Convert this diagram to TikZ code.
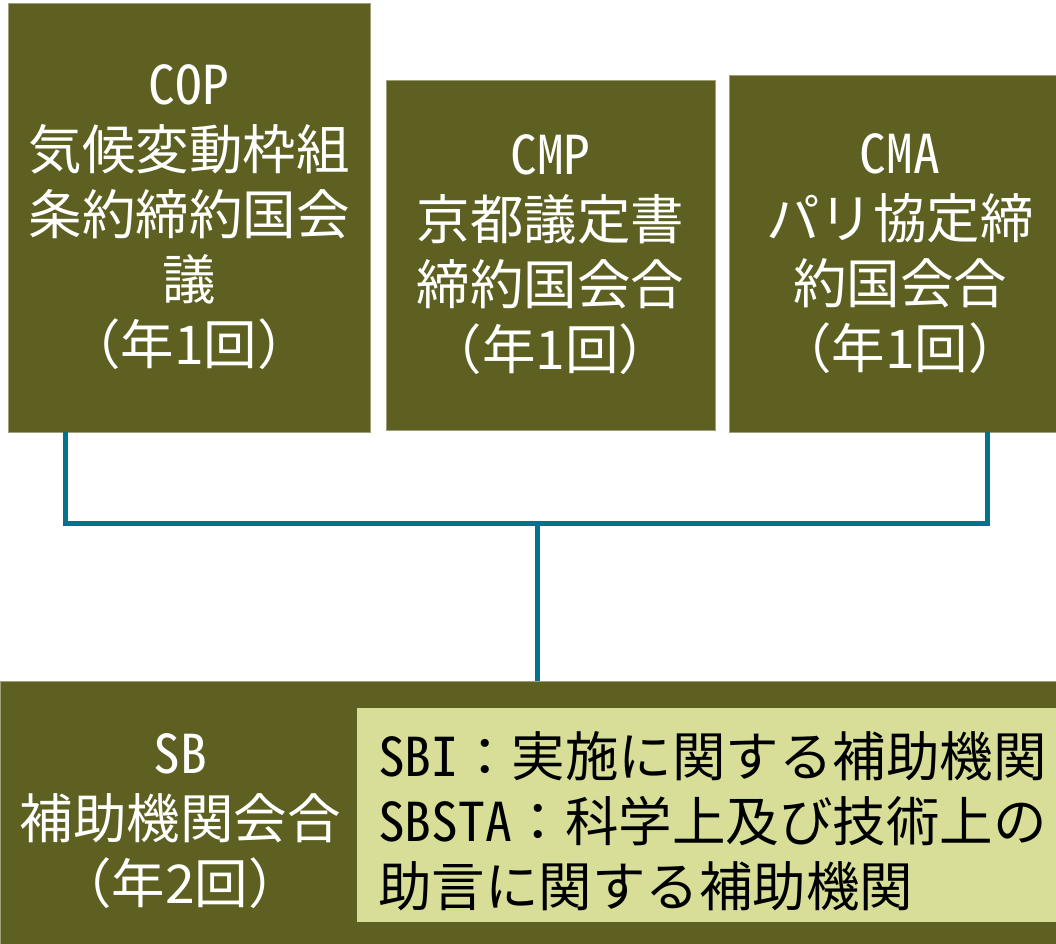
\documentclass[tikz,border=0pt]{standalone}
\usepackage{fontspec}
\newfontfamily\jp{Noto Sans CJK JP}
\newfontfamily\jph[RawFeature=+hwid]{Noto Sans CJK JP}
\newcommand\lat[1]{{\jph #1}}
\definecolor{boxolive}{RGB}{93,96,33}
\definecolor{boxlight}{RGB}{216,222,152}
\definecolor{connteal}{RGB}{0,115,143}
\begin{document}
\begin{tikzpicture}[x=1pt,y=-1pt,
  box/.style={fill=boxolive, draw=boxolive!60!white, line width=0.8pt, inner sep=0pt,
    text=white, align=center, font=\jp\fontsize{53.5}{65}\selectfont},
  sublight/.style={fill=boxlight, draw=none, inner sep=0pt},
  wtext/.style={text=white, align=center, inner sep=0pt, font=\jp\fontsize{53.5}{65}\selectfont},
  btext/.style={text=black, align=left, inner sep=0pt, font=\jp\fontsize{53.5}{65}\selectfont},
  conn/.style={draw=connteal, line width=5pt}]
\useasboundingbox (0,0) rectangle (1056,943);
\fill[white] (0,0) rectangle (1056,943);

\node[box, minimum width=362pt, minimum height=429pt] (cop) at (189,217.5)
  {\lat{COP}\\気候変動枠組\\条約締約国会\\議\\（年1回）};
\node[box, minimum width=329pt, minimum height=350pt] (cmp) at (550.5,255)
  {\lat{CMP}\\京都議定書\\締約国会合\\（年1回）};
\node[box, minimum width=342pt, minimum height=357pt] (cma) at (900,253.5)
  {\lat{CMA}\\パリ協定締\\約国会合\\（年1回）};

\node[box, minimum width=1070pt, minimum height=280pt] (sb) at (535,821) {};
\node[sublight, minimum width=713pt, minimum height=214pt] (sub) at (713.5,815) {};
\node[wtext] (sbtext) at (180,821) {\lat{SB}\\補助機関会合\\（年2回）};
\node[btext, anchor=west] (subtext) at (378,821)
  {\lat{SBI}：実施に関する補助機関\\\lat{SBSTA}：科学上及び技術上の\\助言に関する補助機関};

\coordinate (j) at (537,523);
\draw[conn] ([xshift=58pt]cop.south west) |- (j) -| ([xshift=259pt]cma.south west);
\draw[conn] (j) -- (j |- sb.north);
\end{tikzpicture}
\end{document}
